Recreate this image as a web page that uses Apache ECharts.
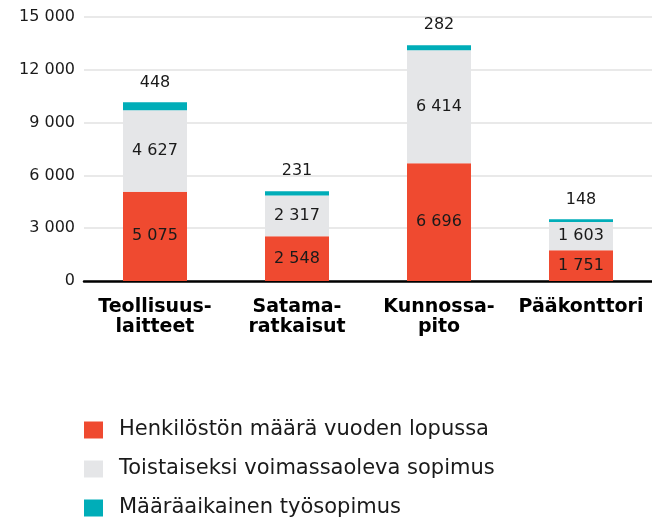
<!DOCTYPE html>
<html><head><meta charset="utf-8">
<script src="https://cdn.jsdelivr.net/npm/echarts@6/dist/echarts.min.js"></script>
<style>html,body{margin:0;padding:0;background:#fff}#c{width:652px;height:521px}</style>
</head><body><div id="c"></div>
<script>
const categories = ['Teollisuus-\nlaitteet', 'Satama-\nratkaisut', 'Kunnossa-\npito', 'Pääkonttori'];
const seriesNames = ['Henkilöstön määrä vuoden lopussa', 'Toistaiseksi voimassaoleva sopimus', 'Määräaikainen työsopimus'];
const permanentEnd = [5075, 2548, 6696, 1751];
const indefinite = [4627, 2317, 6414, 1603];
const fixedTerm = [448, 231, 282, 148];
const yTicks = { min: 0, max: 15000, interval: 3000 };

const fmt = v => String(v).replace(/\B(?=(\d{3})+(?!\d))/g, ' ');
const FONT = 'DejaVu Sans';
const chart = echarts.init(document.getElementById('c'));
const lbl = { show: true, position: 'inside', color: '#1a1a1a', fontFamily: FONT, fontSize: 16, formatter: p => fmt(p.value) };
const legendTops = [419, 458, 497];
chart.setOption({
  animation: false,
  textStyle: { fontFamily: FONT },
  grid: { left: 84, right: 0, top: 17, bottom: 240, containLabel: false },
  legend: seriesNames.map((n, i) => ({
    orient: 'horizontal', left: 84, top: legendTops[i], itemWidth: 19, itemHeight: 17,
    icon: 'rect', padding: 0,
    textStyle: { fontFamily: FONT, fontSize: 21, lineHeight: 22, color: '#1a1a1a', padding: [0, 0, 0, 11] },
    data: [n]
  })),
  xAxis: {
    type: 'category', data: categories,
    axisLine: { lineStyle: { color: '#000', width: 2.5 } },
    axisTick: { show: false },
    axisLabel: { color: '#000', fontWeight: 'bold', fontSize: 19, fontFamily: FONT, margin: 16, lineHeight: 20, interval: 0 }
  },
  yAxis: {
    type: 'value', min: yTicks.min, max: yTicks.max, interval: yTicks.interval,
    axisLine: { show: false }, axisTick: { show: false },
    splitLine: { lineStyle: { color: '#e2e2e2', width: 1.5 } },
    axisLabel: { color: '#1a1a1a', fontSize: 16, fontFamily: FONT, margin: 9, formatter: v => fmt(v) }
  },
  series: [
    { name: seriesNames[0], type: 'bar', stack: 's', data: permanentEnd, barWidth: 64, itemStyle: { color: '#EF4A30' }, label: lbl },
    { name: seriesNames[1], type: 'bar', stack: 's', data: indefinite, barWidth: 64, itemStyle: { color: '#E5E6E8' }, label: lbl },
    { name: seriesNames[2], type: 'bar', stack: 's', data: fixedTerm, barWidth: 64, itemStyle: { color: '#00ADB8' },
      label: Object.assign({}, lbl, { position: 'top', distance: 12 }) }
  ]
});
</script></body></html>
